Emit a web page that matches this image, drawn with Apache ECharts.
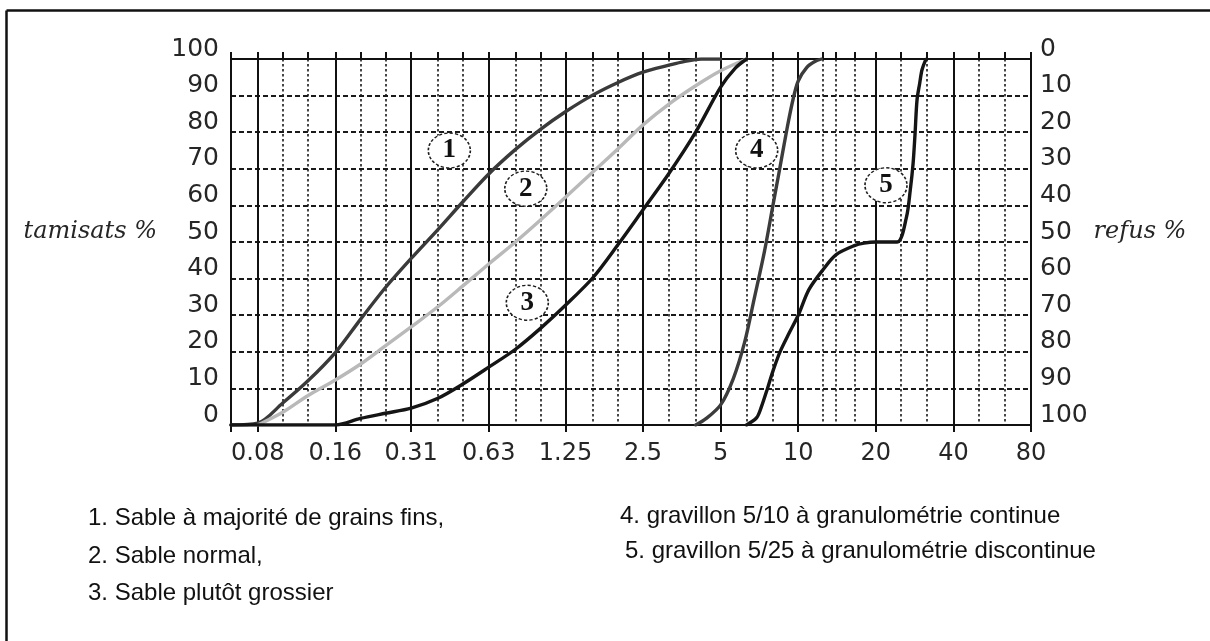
<!DOCTYPE html>
<html>
<head>
<meta charset="utf-8">
<script src="https://cdn.jsdelivr.net/npm/echarts@6/dist/echarts.min.js"></script>
<style>
  html, body { margin: 0; padding: 0; background: #fff; }
  #chart { width: 1210px; height: 641px; }
</style>
</head>
<body>
<div id="chart"></div>
<script>
// Sieve openings (mm), log scale
const sieveMin = 0.063;
const sieveMax = 80;
const majorSieves = [0.08, 0.16, 0.315, 0.63, 1.25, 2.5, 5, 10, 20, 40, 80];
const majorLabels = ['0.08', '0.16', '0.31', '0.63', '1.25', '2.5', '5', '10', '20', '40', '80'];
const minorSieves = [0.1, 0.125, 0.2, 0.25, 0.4, 0.5, 0.8, 1, 1.6, 2, 3.15, 4, 6.3, 8,
                     12.5, 14, 16.5, 25, 31.5, 50, 63];

// Passing percentages (tamisats %) per curve: [opening mm, %]
const sableFin = [[0.063, 0], [0.08, 0.5], [0.1, 6], [0.125, 12], [0.16, 19.8], [0.2, 28.8],
  [0.25, 37.5], [0.315, 45.5], [0.4, 53.4], [0.5, 61], [0.63, 68.6], [0.8, 75.3], [1, 80.8],
  [1.25, 85.6], [1.6, 90.2], [2, 93.6], [2.5, 96.4], [3.15, 98.3], [3.6, 99.3], [4.2, 100], [5, 100]];
const sableNormal = [[0.08, 0], [0.1, 3.5], [0.125, 8], [0.16, 12.3], [0.2, 16.6], [0.25, 21.6],
  [0.315, 26.8], [0.4, 32.3], [0.5, 38], [0.63, 44], [0.8, 50], [1, 56], [1.25, 62.2],
  [1.6, 69.2], [2, 75.5], [2.5, 82], [3.15, 87.7], [4, 92.7], [5, 96.8], [6.3, 100]];
const sableGrossier = [[0.063, 0], [0.16, 0], [0.2, 1.8], [0.25, 3.2], [0.315, 4.6], [0.4, 7.3],
  [0.5, 11.2], [0.63, 15.8], [0.8, 20.7], [1, 26.4], [1.25, 32.7], [1.6, 40.3], [2, 49.3],
  [2.5, 58.8], [3.15, 68.7], [4, 80], [5, 92.3], [5.7, 97.5], [6.3, 100]];
const gravillon510 = [[4, 0], [4.4, 1.8], [5, 5.5], [5.6, 12.7], [6.2, 22.7], [6.75, 34.5],
  [7.4, 47.5], [8, 60.5], [8.4, 68.5], [9.05, 81], [9.55, 89], [10, 94],
  [10.8, 97.7], [11.6, 99.3], [12.3, 100]];
const gravillon525 = [[6.3, 0], [6.9, 2], [7.2, 5], [7.6, 10], [8, 15], [8.5, 20], [9.2, 25],
  [10, 30], [11, 37], [12.5, 42.5], [14, 46.5], [16.5, 49], [18, 49.7], [20, 50], [24.2, 50],
  [26.3, 56.8], [27.2, 64.1], [27.9, 71.4], [28.4, 79.7], [28.9, 88.8], [29.6, 93.4],
  [30.2, 97], [31.1, 99.5], [31.5, 100]];

// Curve names and colours
const curveNames = [
  '1. Sable à majorité de grains fins,',
  '2. Sable normal,',
  '3. Sable plutôt grossier',
  '4. gravillon 5/10 à granulométrie continue',
  '5. gravillon 5/25 à granulométrie discontinue'
];
const curveData = [sableFin, sableNormal, sableGrossier, gravillon510, gravillon525];
const curveColors = ['#3a3a3a', '#b9b9b9', '#151515', '#3c3c3c', '#151515'];

// Numbered markers placed on the curves: [opening mm, %, number]
const curveMarks = [[0.443, 75, '1'], [0.877, 64.6, '2'], [0.889, 33.4, '3'],
                    [6.9, 75, '4'], [21.9, 65.5, '5']];

// Percent ticks
const yTicks = [0, 100, 10];

const chart = echarts.init(document.getElementById('chart'), null, { renderer: 'canvas' });

const axisFont = { fontFamily: 'DejaVu Sans', fontSize: 24, color: '#262626' };
const nameFont = { fontFamily: 'DejaVu Serif', fontStyle: 'italic', fontSize: 24, color: '#262626' };
const legendFont = 'Liberation Sans';

const lineSeries = curveData.map((d, i) => ({
  type: 'line',
  name: curveNames[i],
  data: d,
  xAxisIndex: 0,
  yAxisIndex: 0,
  showSymbol: false,
  smooth: 0.3,
  lineStyle: { color: curveColors[i], width: 3.4, cap: 'round', join: 'round' },
  z: 5
}));

const markSeries = {
  type: 'scatter',
  xAxisIndex: 0,
  yAxisIndex: 0,
  data: curveMarks.map(m => [m[0], m[1], m[2]]),
  symbol: 'circle',
  symbolSize: [42, 35],
  itemStyle: { color: '#fff', opacity: 1, borderColor: '#1e1e1e', borderWidth: 1.5, borderType: [3, 2] },
  label: {
    show: true, position: 'inside',
    formatter: p => p.value[2],
    fontFamily: 'Liberation Serif', fontSize: 27, fontWeight: 'bold', color: '#111'
  },
  emphasis: { disabled: true },
  z: 4
};

const legendLayout = [[88, 520], [88, 558], [88, 595], [620, 518], [625, 553]];

const option = {
  animation: false,
  backgroundColor: '#fff',
  grid: { left: 231, right: 179, top: 59, bottom: 216, containLabel: false },
  xAxis: [
    {
      type: 'log', logBase: 10, min: sieveMin, max: sieveMax, position: 'bottom',
      axisLine: { show: true, lineStyle: { color: '#111', width: 2 } },
      axisTick: { show: true, inside: false, length: 7, customValues: [sieveMin].concat(majorSieves),
                  lineStyle: { color: '#111', width: 2 } },
      axisLabel: {
        show: true, customValues: majorSieves, margin: 17, ...axisFont,
        formatter: v => {
          const k = majorSieves.findIndex(s => Math.abs(s - v) / s < 0.01);
          return k >= 0 ? majorLabels[k] : '';
        }
      },
      splitLine: { show: true, lineStyle: { color: '#111', width: 2, type: 'solid' } },
      minorTick: { show: false }
    },
    {
      type: 'log', logBase: 10, min: sieveMin, max: sieveMax, position: 'top',
      axisLine: { show: true, lineStyle: { color: '#111', width: 2 } },
      axisTick: { show: true, inside: false, length: 7,
                  customValues: [sieveMin].concat(majorSieves, minorSieves),
                  lineStyle: { color: '#111', width: 2 } },
      axisLabel: { show: false },
      splitLine: { show: false }
    },
    {
      type: 'log', logBase: 10, min: sieveMin, max: sieveMax,
      axisLine: { show: false },
      axisTick: { show: false, customValues: minorSieves },
      axisLabel: { show: false },
      splitLine: { show: true, lineStyle: { color: '#1a1a1a', width: 1.6, type: [2.5, 2.5] } }
    }
  ],
  yAxis: [
    {
      type: 'value', min: yTicks[0], max: yTicks[1], interval: yTicks[2], position: 'left',
      name: 'tamisats %', nameLocation: 'middle', nameRotate: 0, nameGap: 74,
      nameTextStyle: { ...nameFont, align: 'right', verticalAlign: 'bottom', lineHeight: 20 },
      axisLine: { show: true, lineStyle: { color: '#111', width: 2 } },
      axisTick: { show: false },
      axisLabel: { ...axisFont, fontSize: 25, margin: 12, verticalAlign: 'bottom', lineHeight: 20 },
      splitLine: { show: true, lineStyle: { color: '#1a1a1a', width: 1.8, type: [5, 3] } }
    },
    {
      type: 'value', min: yTicks[0], max: yTicks[1], interval: yTicks[2], position: 'right',
      inverse: true,
      name: 'refus %', nameLocation: 'middle', nameRotate: 0, nameGap: 61,
      nameTextStyle: { ...nameFont, align: 'left', verticalAlign: 'bottom', lineHeight: 20 },
      axisLine: { show: true, lineStyle: { color: '#111', width: 2 } },
      axisTick: { show: false },
      axisLabel: { ...axisFont, fontSize: 25, margin: 9, verticalAlign: 'bottom', lineHeight: 20 },
      splitLine: { show: false }
    }
  ],
  series: [markSeries].concat(lineSeries),
  graphic: [
    { type: 'line', shape: { x1: 6.5, y1: 10.5, x2: 1210, y2: 10.5 }, style: { stroke: '#111', lineWidth: 2.5 } },
    { type: 'line', shape: { x1: 6.5, y1: 10.5, x2: 6.5, y2: 641 }, style: { stroke: '#111', lineWidth: 2.5 } }
  ].concat(curveNames.map((t, i) => ({
    type: 'text',
    left: legendLayout[i][0],
    top: legendLayout[i][1] - 14,
    style: { text: t, fontFamily: legendFont, fontSize: 24, fill: '#111' }
  })))
};

chart.setOption(option);
</script>
</body>
</html>
